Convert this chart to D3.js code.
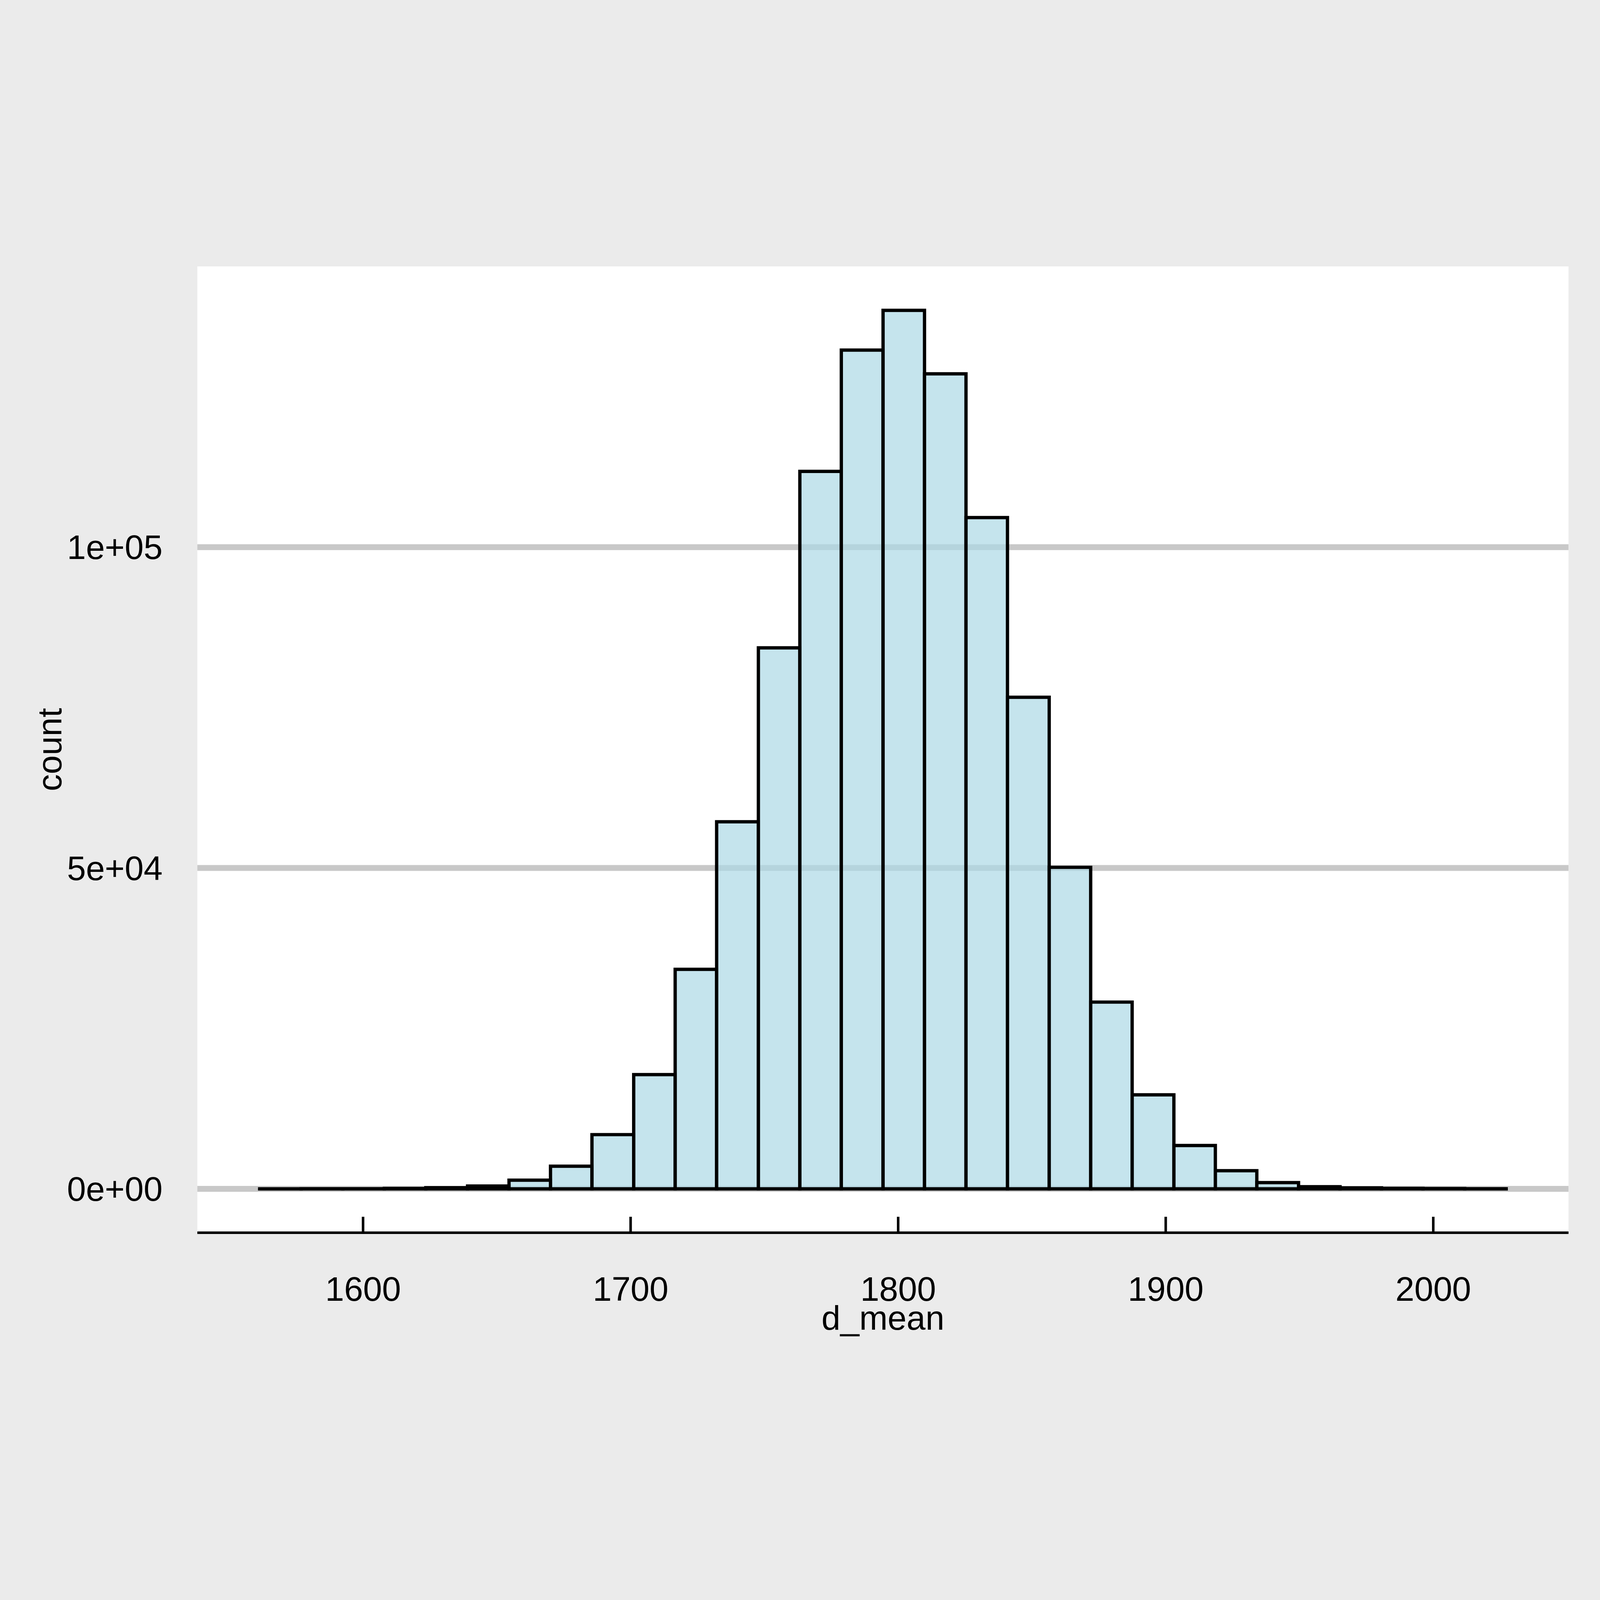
<!DOCTYPE html>
<html>
<head>
<meta charset="utf-8">
<script src="https://cdn.jsdelivr.net/npm/d3@7"></script>
<style>
  html, body { margin: 0; padding: 0; background: #ebebeb; overflow: hidden; }
  svg { display: block; width: 100vw; height: 100vh; }
  text { font-family: "Liberation Sans", Arial, Helvetica, sans-serif; fill: #000; }
</style>
</head>
<body>
<svg id="chart"></svg>
<script>
// histogram of d_mean, 30 bins
const binEdges = [1561.4, 1576.9, 1592.5, 1608.0, 1623.5, 1639.1, 1654.6, 1670.1, 1685.6, 1701.2,
                  1716.7, 1732.2, 1747.8, 1763.3, 1778.8, 1794.4, 1809.9, 1825.4, 1840.9, 1856.5,
                  1872.0, 1887.5, 1903.1, 1918.6, 1934.1, 1949.7, 1965.2, 1980.7, 1996.2, 2011.8, 2027.3];
const counts = [2, 6, 15, 53, 185, 435, 1350, 3520, 8450, 17800,
                34200, 57200, 84300, 111800, 130700, 136900, 127000, 104600, 76600, 50100,
                29100, 14650, 6750, 2830, 970, 330, 150, 70, 35, 8];
const xTicks = [1600, 1700, 1800, 1900, 2000];
const yTicks = [0, 50000, 100000];
const yTickLabels = ["0e+00", "5e+04", "1e+05"];
const xTitle = "d_mean";
const yTitle = "count";

const W = 6300, H = 4500;
const panel = { left: 777, right: 6176, top: 149, bottom: 3954 };
const fontSize = 134;

const bins = counts.map((c, i) => ({ x0: binEdges[i], x1: binEdges[i + 1], count: c }));

// drawn in a 6300x4500 user space, fitted to the window
const svg = d3.select("#chart").attr("viewBox", `0 0 ${W} ${H}`);

svg.append("rect").attr("width", W).attr("height", H).attr("fill", "#ebebeb");
svg.append("rect")
    .attr("x", panel.left).attr("y", panel.top)
    .attr("width", panel.right - panel.left)
    .attr("height", panel.bottom - panel.top)
    .attr("fill", "#ffffff");

// scales with ggplot-style 5% expansion
const xLo = binEdges[0], xHi = binEdges[binEdges.length - 1];
const xPad = (xHi - xLo) * 0.05;
const x = d3.scaleLinear().domain([xLo - xPad, xHi + xPad]).range([panel.left, panel.right]);

const yMax = d3.max(counts);
const y = d3.scaleLinear().domain([-0.05 * yMax, 1.05 * yMax]).range([panel.bottom, panel.top]);

// horizontal grid
svg.append("g")
    .selectAll("line")
    .data(yTicks)
    .join("line")
    .attr("x1", panel.left).attr("x2", panel.right)
    .attr("y1", d => y(d)).attr("y2", d => y(d))
    .attr("stroke", "#c8c8c8")
    .attr("stroke-width", 23);

// bars (paths so empty bins still show an outline)
svg.append("g")
    .selectAll("path")
    .data(bins)
    .join("path")
    .attr("d", d => `M${x(d.x0)},${y(0)}V${y(d.count)}H${x(d.x1)}V${y(0)}Z`)
    .attr("fill", "#add8e6")
    .attr("fill-opacity", 0.7)
    .attr("stroke", "#000")
    .attr("stroke-width", 13)
    .attr("stroke-linejoin", "miter");

// x axis, ticks pointing into the panel
const xAxis = svg.append("g")
    .attr("transform", `translate(0,${panel.bottom})`)
    .call(d3.axisBottom(x).tickValues(xTicks).tickFormat(d3.format("d")).tickSizeInner(-63).tickSizeOuter(0));
xAxis.select(".domain").remove();
xAxis.append("line")
    .attr("x1", panel.left).attr("x2", panel.right)
    .attr("stroke", "#000").attr("stroke-width", 10);
xAxis.selectAll(".tick line").attr("stroke", "#000").attr("stroke-width", 10);
xAxis.selectAll(".tick text")
    .attr("y", 268).attr("dy", null)
    .attr("font-size", fontSize)
    .attr("font-family", "Liberation Sans, Arial, sans-serif");

// y axis labels only
const yAxis = svg.append("g")
    .attr("transform", `translate(${panel.left},0)`)
    .call(d3.axisLeft(y).tickValues(yTicks).tickFormat((d, i) => yTickLabels[i]).tickSize(0).tickPadding(137));
yAxis.select(".domain").remove();
yAxis.selectAll(".tick text")
    .attr("font-size", fontSize)
    .attr("font-family", "Liberation Sans, Arial, sans-serif")
    .attr("dy", "0.35em");

// titles
svg.append("text")
    .attr("x", (panel.left + panel.right) / 2)
    .attr("y", 4335)
    .attr("text-anchor", "middle")
    .attr("font-size", fontSize)
    .text(xTitle);

svg.append("text")
    .attr("transform", `translate(241,${(panel.top + panel.bottom) / 2}) rotate(-90)`)
    .attr("text-anchor", "middle")
    .attr("font-size", fontSize)
    .text(yTitle);
</script>
</body>
</html>
